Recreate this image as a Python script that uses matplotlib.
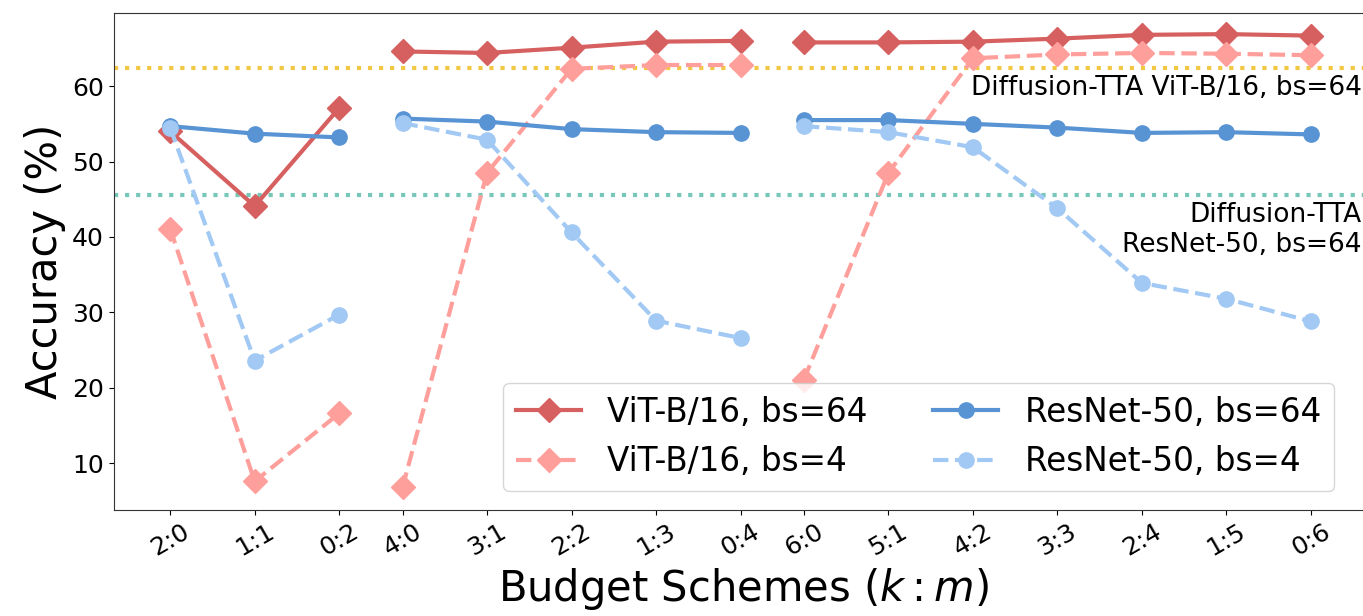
import matplotlib
matplotlib.use("Agg")
import matplotlib.pyplot as plt
import numpy as np

# budget schemes, three groups (total budget 2, 4, 6)
schemes = [["2:0", "1:1", "0:2"],
           ["4:0", "3:1", "2:2", "1:3", "0:4"],
           ["6:0", "5:1", "4:2", "3:3", "2:4", "1:5", "0:6"]]

vit_bs64 = [[54.0, 44.1, 57.1],
            [64.6, 64.4, 65.1, 65.9, 66.0],
            [65.8, 65.8, 65.9, 66.3, 66.8, 66.9, 66.7]]
vit_bs4 = [[41.1, 7.6, 16.6],
           [6.8, 48.5, 62.3, 62.8, 62.8],
           [21.1, 48.5, 63.7, 64.2, 64.4, 64.3, 64.1]]
res_bs64 = [[54.7, 53.7, 53.2],
            [55.7, 55.3, 54.3, 53.9, 53.8],
            [55.5, 55.5, 55.0, 54.5, 53.8, 53.9, 53.6]]
res_bs4 = [[54.5, 23.6, 29.7],
           [55.1, 52.9, 40.6, 28.9, 26.6],
           [54.7, 53.9, 51.9, 43.8, 33.9, 31.8, 28.8]]

diff_tta_vit = 62.4
diff_tta_res = 45.6

# x positions: groups separated by a smaller gap
gap = 0.75
xs = []
start = 0.0
for g in schemes:
    xs.append(np.arange(len(g)) + start)
    start += len(g) - 1 + gap

fig = plt.figure(figsize=(13.63, 6.16), dpi=100)
# axes runs slightly past the right edge of the figure, like the original crop
ax = fig.add_axes([0.0833, 0.1721, 0.925, 0.8068])

series = [
    (vit_bs64, "ViT-B/16, bs=64", "#d65f5f", "-", "D", 12),
    (vit_bs4, "ViT-B/16, bs=4", "#ff9f9b", "--", "D", 12),
    (res_bs64, "ResNet-50, bs=64", "#5893d4", "-", "o", 11),
    (res_bs4, "ResNet-50, bs=4", "#a1c9f4", "--", "o", 11),
]
handles = {}
for vals, label, color, ls, mk, ms in series:
    for i, (x, y) in enumerate(zip(xs, vals)):
        ln, = ax.plot(x, y, color=color, linestyle=ls, marker=mk, markersize=ms,
                      linewidth=3)
        if i == 0:
            handles[label] = ln

ax.axhline(diff_tta_vit, color="#f2c744", linestyle=":", linewidth=3, zorder=0)
ax.axhline(diff_tta_res, color="#76c7b7", linestyle=":", linewidth=3, zorder=0)

ax.text(14.1, 61.5, "Diffusion-TTA ViT-B/16, bs=64", ha="right", va="top", fontsize=19)
ax.text(14.1, 44.7, "Diffusion-TTA\nResNet-50, bs=64", ha="right", va="top", fontsize=19)

ax.set_xlim(-0.67, 14.25)
ax.set_ylim(3.8, 69.7)
ax.set_xticks(np.concatenate(xs))
ax.set_xticklabels([s for g in schemes for s in g], rotation=30, ha="center")
ax.tick_params(axis="both", labelsize=18)
ax.set_yticks([10, 20, 30, 40, 50, 60])
for sp in ax.spines.values():
    sp.set_color("#333333")
ax.set_xlabel("Budget Schemes ($k:m$)", fontsize=30)
ax.set_ylabel("Accuracy (%)", fontsize=30)

order = ["ViT-B/16, bs=64", "ViT-B/16, bs=4", "ResNet-50, bs=64", "ResNet-50, bs=4"]
ax.legend([handles[k] for k in order], order, loc="lower right", ncol=2,
          fontsize=23.5, bbox_to_anchor=(0.981, 0.005))

fig.savefig("out.png", dpi=100)
